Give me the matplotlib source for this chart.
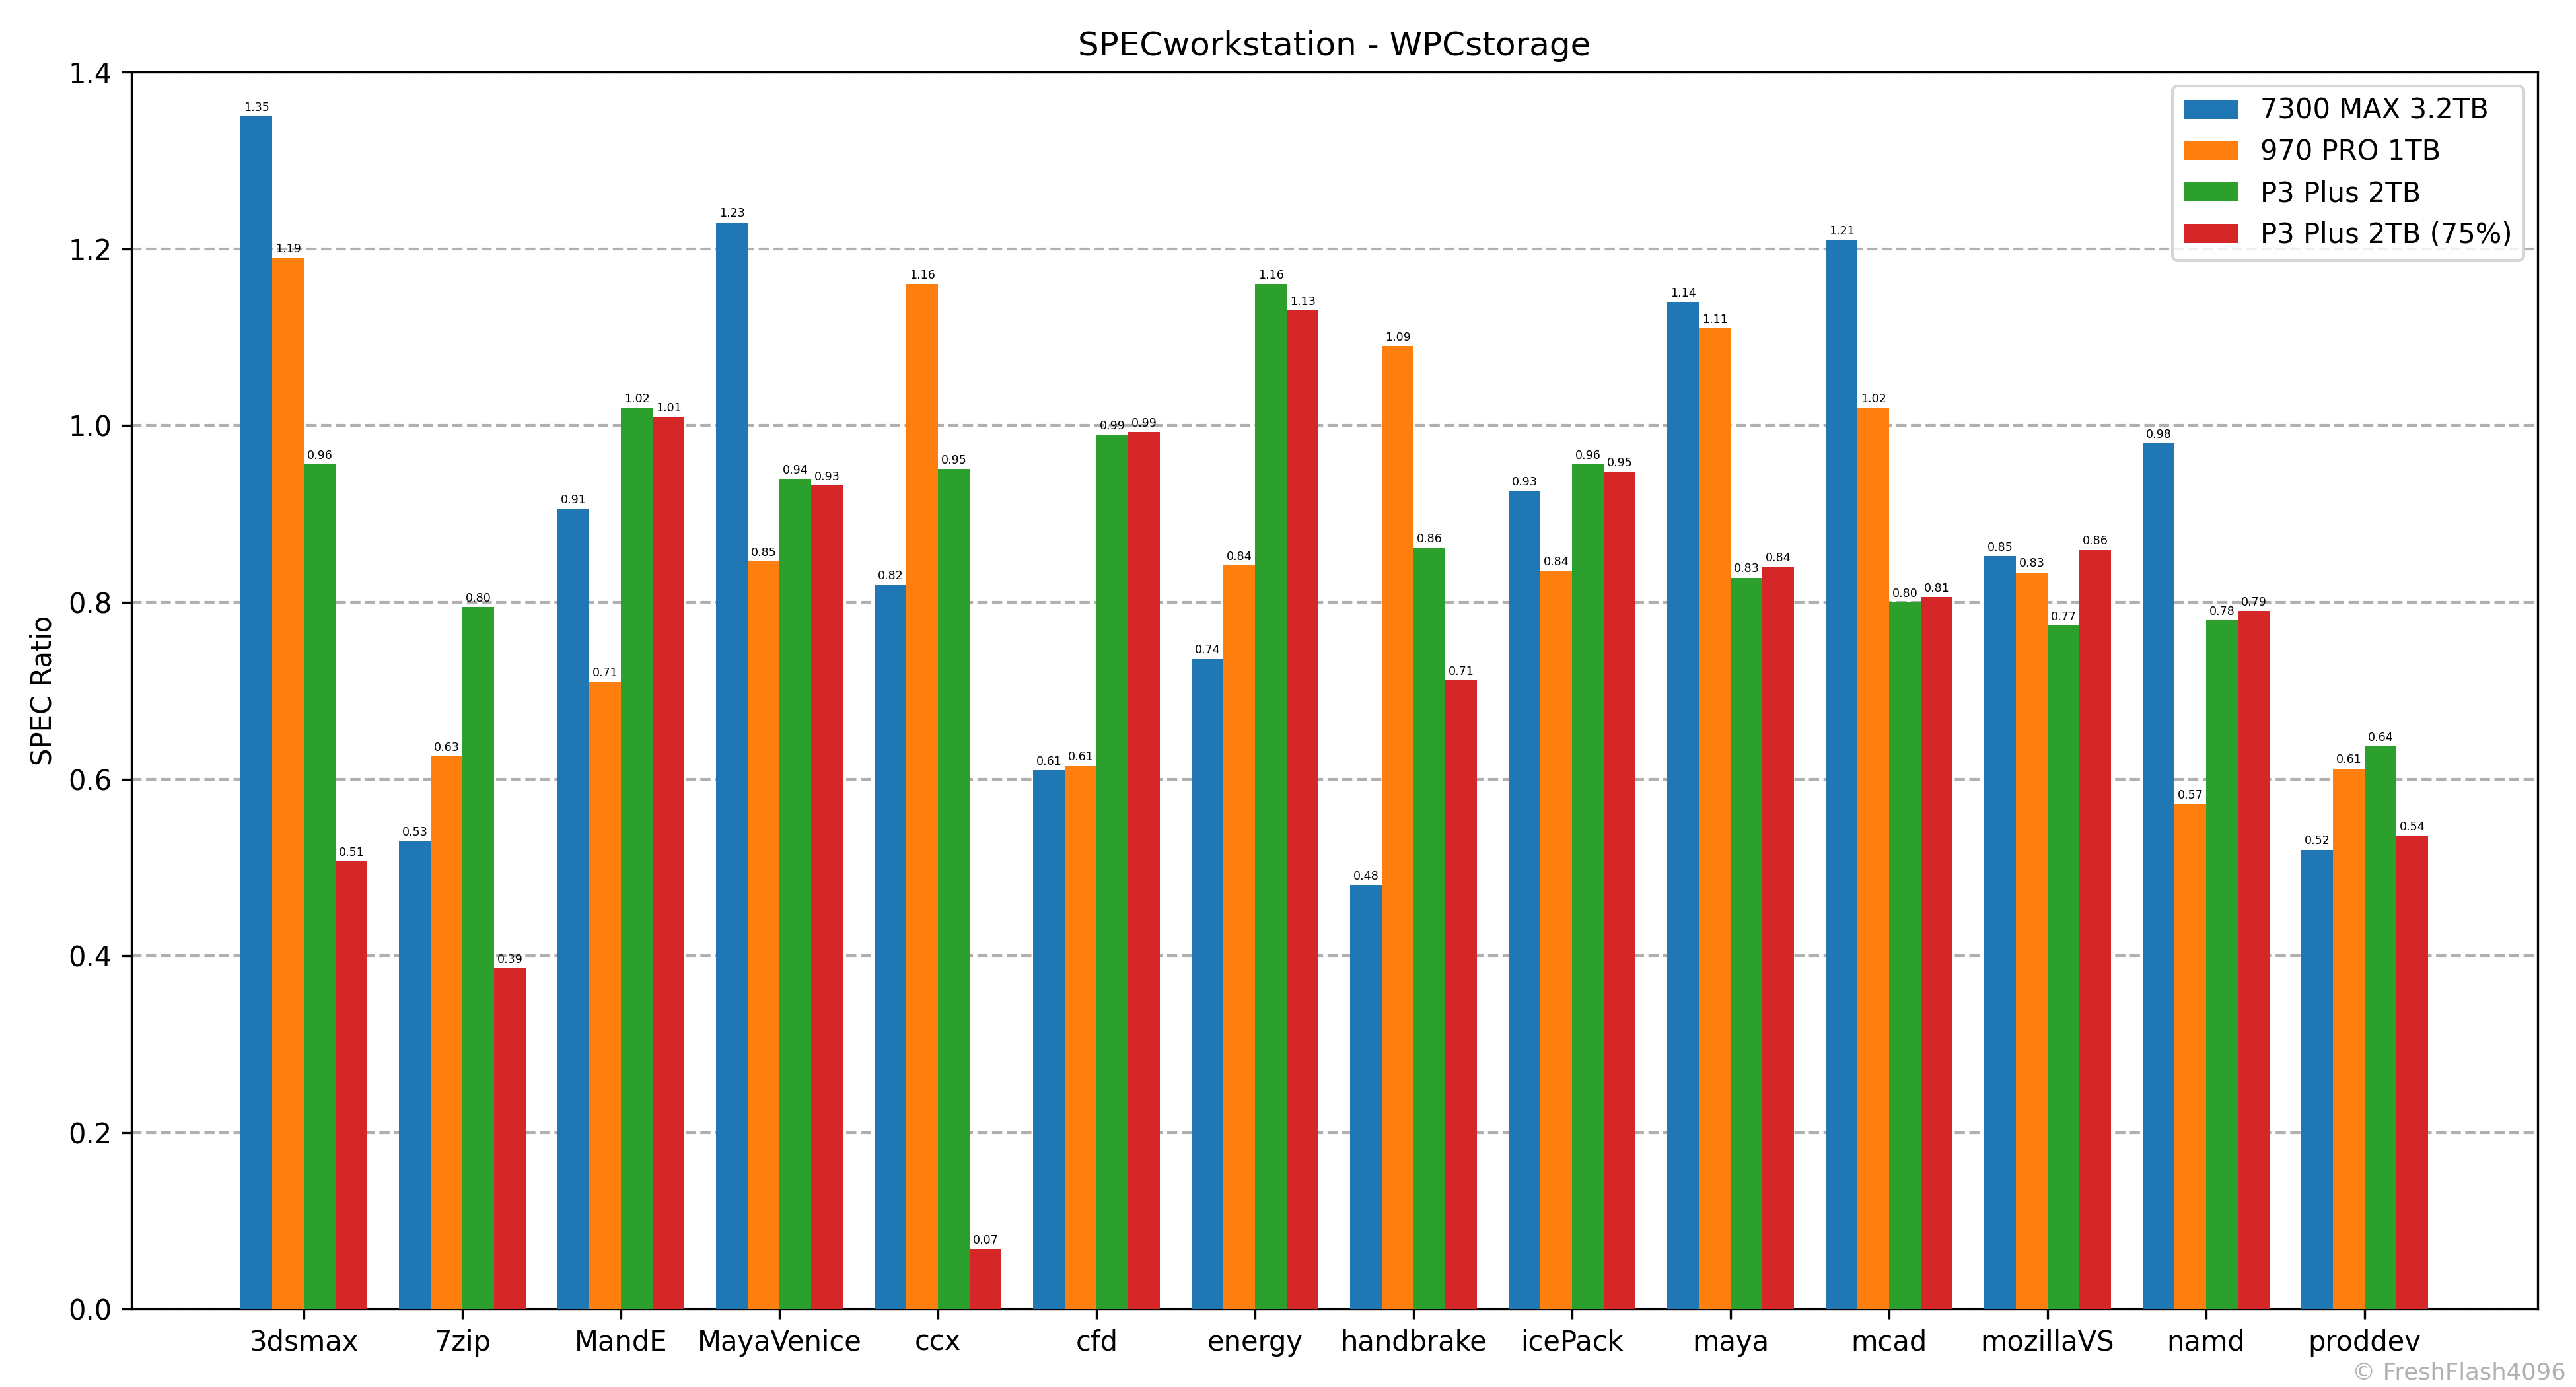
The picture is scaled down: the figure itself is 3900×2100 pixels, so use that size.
import numpy as np
import matplotlib
matplotlib.use('Agg')
import matplotlib.pyplot as plt

categories = ['3dsmax', '7zip', 'MandE', 'MayaVenice', 'ccx', 'cfd', 'energy',
              'handbrake', 'icePack', 'maya', 'mcad', 'mozillaVS', 'namd', 'proddev']
series_names = ['7300 MAX 3.2TB', '970 PRO 1TB', 'P3 Plus 2TB', 'P3 Plus 2TB (75%)']
max7300 = [1.35, 0.53, 0.906, 1.23, 0.82, 0.61, 0.736, 0.48, 0.926, 1.14, 1.21, 0.852, 0.98, 0.52]
pro970 = [1.19, 0.626, 0.71, 0.846, 1.16, 0.615, 0.842, 1.09, 0.836, 1.11, 1.02, 0.834, 0.572, 0.612]
p3plus = [0.956, 0.795, 1.02, 0.94, 0.951, 0.99, 1.16, 0.862, 0.956, 0.828, 0.80, 0.774, 0.78, 0.637]
p3plus75 = [0.507, 0.386, 1.01, 0.932, 0.068, 0.993, 1.13, 0.712, 0.948, 0.84, 0.806, 0.86, 0.79, 0.536]

series = [max7300, pro970, p3plus, p3plus75]
colors = ['#1f77b4', '#ff7f0e', '#2ca02c', '#d62728']

fig, ax = plt.subplots(figsize=(13, 7), dpi=300)
x = np.arange(len(categories))
width = 0.2
for i, (name, vals) in enumerate(zip(series_names, series)):
    bars = ax.bar(x + (i - 1.5) * width, vals, width, label=name, color=colors[i], zorder=3)
    ax.bar_label(bars, fmt='%.2f', fontsize=4.2, padding=1)

ax.set_xticks(x)
ax.set_xticklabels(categories)
ax.set_ylim(0, 1.4)
ax.set_ylabel('SPEC Ratio')
ax.set_title('SPECworkstation - WPCstorage')
ax.yaxis.grid(True, linestyle='--', color='#b0b0b0', linewidth=1, zorder=0)
ax.legend(loc='upper right')

fig.text(0.996, 0.002, '\u00a9 FreshFlash4096', ha='right', va='bottom',
         fontsize=8.5, color='#b0b0b0')

plt.subplots_adjust(left=0.051, right=0.985, top=0.948, bottom=0.056)
plt.savefig('out.png', dpi=300)
